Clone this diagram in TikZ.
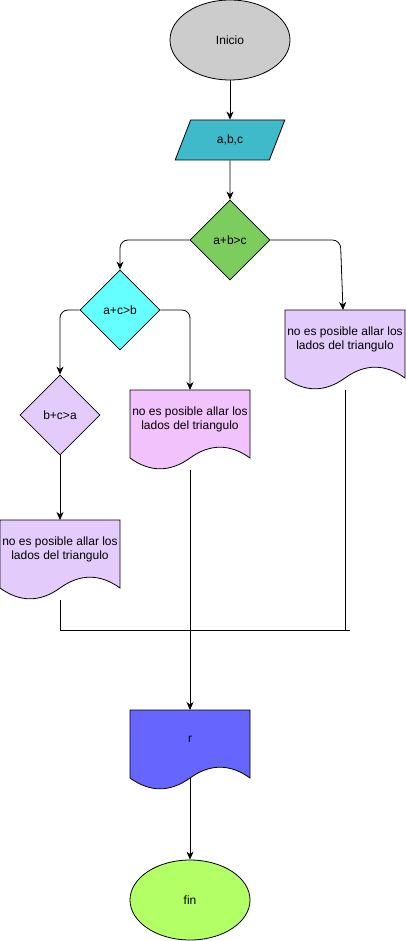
\documentclass[tikz,border=0pt]{standalone}
\usepackage{fontspec}
\setmainfont{Liberation Sans}
\usetikzlibrary{calc,shapes.geometric,arrows.meta}
\definecolor{gris}{HTML}{CCCCCC}
\definecolor{turquesa}{HTML}{3FBACB}
\definecolor{verde}{HTML}{7DCC5E}
\definecolor{celeste}{HTML}{66FFFF}
\definecolor{lila}{HTML}{E3CCFC}
\definecolor{rosa}{HTML}{F2C2FC}
\definecolor{azul}{HTML}{6666FF}
\definecolor{lima}{HTML}{B3FF66}
\tikzset{
	base/.style={draw, inner sep=0pt, font=\fontsize{12}{14}\selectfont, align=center},
	term/.style={base, ellipse, minimum width=120, minimum height=80},
	datos/.style={base, trapezium, trapezium left angle=63.43, trapezium right angle=116.57, trapezium stretches=true, minimum width=110, minimum height=40},
	decide/.style={base, diamond, minimum width=80, minimum height=80},
	doc/.style={anchor=north, inner sep=0pt, minimum width=120, minimum height=57, font=\fontsize{12}{14}\selectfont, align=center}
}
\def\docnode(#1)(#2)[#3]#4{\draw[fill=#3, shift={(#2)}] (-60,0) -- (60,0) -- (60,68) .. controls (40,53.6) and (20,53.6) .. (0,68) .. controls (-20,82.4) and (-40,82.4) .. (-60,68) -- cycle;
	\node[doc] (#1) at (#2) {#4};}

\begin{document}
\begin{tikzpicture}[x=1pt, y=-1pt, >={Stealth[length=8pt, width=7pt, inset=2.5pt]}, line width=0.8pt]
	%%%%% START %%%%%
	\useasboundingbox (0,0) rectangle (406,941);
	
	\node[term, fill=gris] (inicio) at (230,40) {Inicio};
	\node[datos, fill=turquesa] (abc) at (230,140) {a,b,c};
	\node[decide, fill=verde] (ab) at (230,240) {a+b>c};
	\node[decide, fill=celeste] (ac) at (120,310) {a+c>b};
	\node[decide, fill=lila] (bc) at (60,415) {b+c>a};
	
	\docnode(d1)(345,310)[lila]{no es posible allar los\\lados del triangulo}
	\docnode(d2)(190,390)[rosa]{no es posible allar los\\lados del triangulo}
	\docnode(d3)(60,520)[lila]{no es posible allar los\\lados del triangulo}
	\docnode(r)(190,710)[azul]{r}
	
	\node[term, fill=lima] (fin) at (190,900) {fin};
	
	\draw[->] (inicio) -- (abc);
	\draw[->] (abc) -- (ab);
	\draw[->, rounded corners=8] (ab.west) -| (ac.north);
	\draw[->, rounded corners=8] (ab.east) -- ++(70,0) -- ([xshift=-2pt]d1.north);
	\draw[->, rounded corners=8] (ac.west) -| (bc.north);
	\draw[->, rounded corners=8] (ac.east) -| (d2.north);
	\draw[->] (bc.south) -- (d3.north);
	
	% salidas
	\coordinate (s1) at (345,390);
	\coordinate (s2) at (190,470);
	\coordinate (s3) at (60,600);
	\coordinate (s4) at (190,778);
	\coordinate (junta) at (350,630);
	\draw (s3) |- (junta);
	\draw (s1) -- (s1 |- junta);
	\draw[->] (s2) -- (r.north);
	\draw[->] (s4) -- (fin);
	
	%%%%% END %%%%%
\end{tikzpicture}
\end{document}
